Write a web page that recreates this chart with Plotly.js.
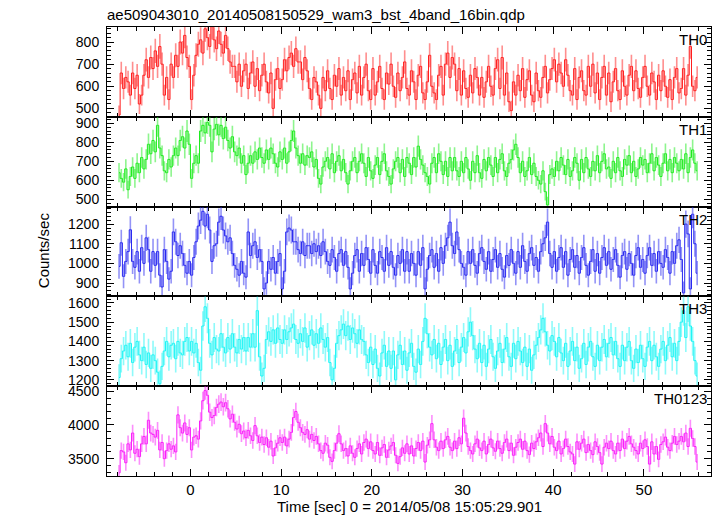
<!DOCTYPE html>
<html><head><meta charset="utf-8">
<script src="https://cdn.plot.ly/plotly-3.0.1.min.js"></script>
<style>body{margin:0;background:#fff;} #chart{width:717px;height:516px;}</style>
</head><body><div id="chart"></div>
<script>
// time bins: 0.25 s bins starting at t0 (sec, relative to 2014/05/08 15:05:29.901)
const binStart = -7.875;
const binWidth = 0.25;

const th0 = [
470,660,590,640, 620,560,660,590,
650,520,560,650, 720,640,730,680,
760,690,780,700, 560,640,540,700,
640,740,690,800, 750,830,730,690,
540,650,740,790, 810,750,860,820,
780,870,810,770, 850,790,750,830,
770,710,690,690, 620,700,600,670,
700,590,660,710, 600,680,580,650,
700,620,570,660, 500,630,680,590,
630,720,670,730, 750,690,770,710,
710,630,730,670, 590,540,640,620,
560,500,640,580, 670,590,540,650,
600,680,560,640, 580,670,540,630,
660,570,690,560, 640,700,580,540,
680,560,620,690, 590,540,660,610,
700,600,550,660, 580,640,710,590,
560,670,620,540, 650,690,570,540,
620,740,600,570, 540,650,690,560,
700,750,640,730, 700,580,680,560,
670,590,550,650, 570,680,640,560,
640,550,620,690, 600,560,680,720,
590,730,560,660, 530,490,620,560,
650,580,680,550, 630,670,560,530,
660,580,550,640, 690,570,630,680,
720,620,700,660, 600,720,650,580,
560,680,540,640, 670,580,560,690,
600,700,570,660, 540,640,690,560,
660,530,620,680, 580,540,670,600,
560,650,690,580, 670,590,550,640,
690,600,560,660, 620,540,650,580,
670,600,550,630, 540,640,680,570,
590,680,560,650, 780,600,580,640
];

const th1 = [
640,610,590,660, 550,620,670,610,
690,640,720,660, 710,790,740,810,
750,890,770,730, 650,640,710,670,
730,770,730,810, 830,770,860,790,
610,690,730,690, 860,890,850,905,
890,750,870,895, 840,890,820,880,
810,770,830,750, 730,770,690,730,
630,690,730,690, 750,710,770,720,
690,760,710,770, 740,690,670,750,
710,770,690,750, 810,860,770,730,
690,740,680,730, 720,750,670,710,
610,580,670,700, 720,660,740,640,
700,730,650,710, 640,580,650,700,
720,640,700,740, 690,620,720,650,
610,680,720,630, 700,740,650,620,
580,660,700,720, 640,710,620,720,
690,630,720,670, 780,710,680,640,
620,580,690,720, 640,740,700,630,
700,620,720,650, 720,650,620,700,
640,720,660,600, 700,640,730,640,
610,710,650,720, 680,620,720,640,
710,740,650,620, 690,710,760,790,
720,640,700,620, 650,720,630,690,
620,600,580,650, 540,470,630,660,
620,700,650,720, 680,630,710,620,
650,720,690,600, 710,640,720,660,
620,700,650,730, 640,700,740,660,
670,610,700,640, 720,650,620,710,
680,730,640,700, 620,660,720,680,
710,640,690,740, 650,720,680,620,
690,740,650,710, 640,720,690,650,
710,660,740,640, 720,760,690,650
];

const th2 = [
985,1105,934,1010, 1060,1171,1010,980,
1060,960,1080,1000, 1130,1070,960,1060,
990,1060,940,880, 1070,1010,920,960,
1160,1110,1040,1090, 1050,990,950,1010,
940,1030,1110,1190, 1220,1265,1190,1250,
1170,1010,1090,1100, 1210,1240,1170,1140,
1110,1130,1050,990, 970,940,1010,950,
930,1160,1040,1090, 1110,1030,1070,1010,
870,900,1010,970, 1030,950,1010,1050,
870,960,1160,1180, 1170,1110,1110,1070,
1050,1110,1040,1090, 1090,1050,1100,1060,
1090,1040,1110,1060, 1010,990,1070,1030,
960,1050,1070,990, 1060,980,870,950,
1040,1070,960,1050, 990,1080,1020,950,
1070,990,950,1060, 1030,960,1080,990,
1060,980,940,1040, 1000,1070,960,1060,
960,1050,1000,940, 1060,990,1080,870,
970,1040,1070,980, 1050,960,1080,1000,
1090,1130,1210,1090, 1050,1160,1070,1000,
980,940,1060,1000, 1070,990,950,1050,
1080,1010,970,1060, 960,1020,1070,980,
1050,970,930,1040, 990,1070,1000,950,
1060,980,1090,1010, 960,1050,1080,990,
1030,960,1060,1100, 1130,1210,1050,980,
1060,960,1030,1080, 980,1060,940,1020,
1070,980,1040,950, 1030,1080,990,940,
1010,1070,960,1050, 950,1030,1080,990,
1060,970,1020,1070, 990,930,1040,1060,
970,1050,1000,940, 1040,1080,980,1020,
950,1040,1080,990, 1050,960,1060,1000,
980,1070,1030,950, 1060,1000,1090,1120,
1020,850,1200,1150, 870,1250,1100,950
];

const th3 = [
1212,1310,1350,1380, 1320,1390,1290,1370,
1400,1330,1300,1370, 1280,1340,1260,1330,
1300,1240,1180,1270, 1350,1400,1320,1380,
1390,1310,1400,1340, 1330,1400,1420,1350,
1400,1340,1390,1290, 1250,1480,1580,1520,
1390,1330,1420,1360, 1350,1440,1370,1340,
1420,1360,1440,1370, 1340,1410,1360,1420,
1350,1420,1370,1440, 1370,1560,1320,1220,
1260,1410,1450,1400, 1460,1390,1470,1410,
1390,1460,1410,1450, 1470,1490,1410,1390,
1440,1400,1470,1370, 1430,1460,1380,1440,
1390,1470,1410,1370, 1420,1290,1200,1260,
1390,1430,1460,1490, 1430,1480,1410,1470,
1440,1390,1460,1410,
1400,1330,1290,1370, 1280,1360,1260,1220,
1340,1380,1270,1350, 1260,1350,1200,1330,
1380,1280,1350,1250, 1340,1390,1270,1240,
1360,1280,1400,1520, 1440,1370,1330,1410,
1310,1390,1280,1370, 1410,1300,1380,1270,
1350,1410,1290,1370, 1420,1340,1450,1500,
1430,1360,1310,1390, 1290,1380,1270,1360,
1410,1320,1260,1350, 1390,1290,1360,1420,
1320,1270,1390,1310, 1400,1350,1290,1370,
1270,1360,1250,1330, 1380,1420,1460,1520,
1450,1380,1350,1430, 1400,1320,1420,1340,
1300,1390,1270,1350, 1400,1300,1370,1260,
1310,1390,1280,1370, 1400,1320,1270,1380,
1300,1370,1410,1320, 1390,1420,1330,1400,
1310,1270,1380,1300, 1370,1400,1300,1260,
1360,1290,1380,1310, 1270,1370,1400,1300,
1380,1320,1270,1360, 1400,1300,1380,1420,
1320,1390,1300,1400, 1500,1560,1420,1580,
1480,1400,1300,1220
];

const th0123 = [
3290,3620,3600,3440, 3720,3630,3880,3580,
3640,3530,3720,3830, 3720,4070,3880,3860,
3820,3920,3630,3740, 3500,3620,3720,3640,
3690,3600,4150,3960, 3880,4030,3860,3960,
3630,3820,3840,3790, 4060,4360,4510,4440,
4190,4110,4140,4260, 4310,4340,4270,4330,
4240,4090,4160,4040, 3940,4010,3870,3910,
3810,3920,3840,3770, 3990,3840,3740,3820,
3710,3810,3670,3760, 3540,3660,3730,3810,
3740,3820,3690,3790, 3890,4110,4200,4040,
3960,3890,3860,3930, 3790,3860,3770,3830,
3720,3620,3580,3730, 3700,3520,3460,3620,
3730,3870,3720,3620, 3650,3540,3690,3580,
3520,3650,3720,3570, 3740,3790,3650,3750,
3620,3570,3740,3550, 3660,3710,3520,3630,
3690,3740,3550,3430, 3530,3660,3580,3720,
3570,3690,3540,3650, 3740,3620,3760,3450,
3700,3780,4020,3780, 3670,3620,3760,3650,
3780,3830,3670,3620, 3760,3650,3810,3720,
4100,3880,3680,3620, 3570,3720,3790,3660,
3620,3760,3570,3710, 3790,3660,3610,3760,
3650,3580,3740,3790, 3620,3730,3550,3670,
3740,3790,3640,3760, 3620,3560,3730,3650,
3750,3810,3880,3680, 4020,3880,3720,3830,
3670,3620,3760,3570, 3650,3790,3680,3600,
3570,3420,3750,3640, 3730,3790,3590,3710,
3620,3560,3750,3680, 3590,3420,3670,3730,
3650,3760,3620,3570, 3730,3620,3790,3650,
3760,3830,3720,3670, 3620,3570,3730,3650,
3780,3680,3420,3750, 3570,3680,3490,3710,
3750,3820,3670,3620, 3730,3830,3710,3760,
3830,3750,3880,3680, 3950,3800,3680,3450
];

const series = [th0, th1, th2, th3, th0123];
const panelNames = ['TH0', 'TH1', 'TH2', 'TH3', 'TH0123'];
const lineColors = ['rgb(255,30,30)', 'rgb(30,235,30)', 'rgb(40,40,240)', 'rgb(30,245,245)', 'rgb(250,30,250)'];
const errColors = ['rgba(255,30,30,0.5)', 'rgba(30,235,30,0.5)', 'rgba(40,40,240,0.5)', 'rgba(30,245,245,0.5)', 'rgba(250,30,250,0.5)'];
const yRanges = [[462, 868], [461, 935], [832, 1289], [1167, 1634], [3243, 4575]];
const yMajor = [100, 100, 100, 100, 500];
const yMinor = [20, 20, 20, 20, 100];
const xRange = [-9.2, 57.4];

const time = th0.map((_, i) => binStart + binWidth * i);

const font = 'Liberation Sans, Arial, Helvetica, sans-serif';
const traces = [];
const layout = {
  width: 717, height: 516,
  margin: {l: 107, r: 6, t: 27, b: 40},
  paper_bgcolor: '#fff', plot_bgcolor: '#fff',
  showlegend: false,
  font: {family: font, size: 15, color: '#000'},
  annotations: []
};

series.forEach((vals, k) => {
  const sx = k === 0 ? '' : String(k + 1);
  const err = vals.map(v => Math.sqrt(v / binWidth));
  traces.push({
    x: time, y: vals, type: 'scatter', mode: 'lines',
    line: {shape: 'hvh', color: lineColors[k], width: 1},
    error_y: {type: 'data', array: err, visible: true, color: errColors[k], thickness: 1.6, width: 0},
    xaxis: 'x' + sx, yaxis: 'y' + sx, hoverinfo: 'skip'
  });
  const top = 1 - 0.2 * k, bot = 1 - 0.2 * (k + 1);
  layout['xaxis' + sx] = {
    range: xRange, domain: [0, 1], anchor: 'y' + sx,
    tick0: 0, dtick: 10, ticks: 'inside', ticklen: 7, tickcolor: '#000', tickwidth: 1,
    minor: {dtick: 2, ticks: 'inside', ticklen: 4, tickcolor: '#000'},
    mirror: 'allticks', showline: true, linecolor: '#000', linewidth: 1,
    showgrid: false, zeroline: false, showticklabels: k === 4,
    tickfont: {family: font, size: 15, color: '#000'}
  };
  layout['yaxis' + sx] = {
    range: yRanges[k], domain: [bot, top], anchor: 'x' + sx,
    tick0: 0, dtick: yMajor[k], ticks: 'inside', ticklen: 7, tickcolor: '#000', tickwidth: 1,
    minor: {dtick: yMinor[k], ticks: 'inside', ticklen: 4, tickcolor: '#000'},
    mirror: 'allticks', showline: true, linecolor: '#000', linewidth: 1,
    showgrid: false, zeroline: false, ticklabelstandoff: 4,
    tickfont: {family: font, size: 14, color: '#000'}
  };
  layout.annotations.push({
    text: panelNames[k], xref: 'paper', yref: 'paper', x: 1, y: top,
    xanchor: 'right', yanchor: 'top', xshift: -2, yshift: -2, showarrow: false,
    font: {family: font, size: 15, color: '#000'}
  });
});

layout.annotations.push({
  text: 'ae509043010_20140508150529_wam3_bst_4band_16bin.qdp',
  xref: 'paper', yref: 'paper', x: 0, y: 1, xanchor: 'left', yanchor: 'bottom',
  xshift: -2, yshift: 2, showarrow: false, font: {family: font, size: 15, color: '#000'}
});
layout.annotations.push({
  text: 'Time [sec] 0 = 2014/05/08 15:05:29.901',
  xref: 'paper', yref: 'paper', x: 0.5, y: 0, xanchor: 'center', yanchor: 'top',
  yshift: -20, showarrow: false, font: {family: font, size: 15, color: '#000'}
});
layout.annotations.push({
  text: 'Counts/sec', textangle: -90,
  xref: 'paper', yref: 'paper', x: 0, y: 0.503, xanchor: 'center', yanchor: 'middle',
  xshift: -64, showarrow: false, font: {family: font, size: 15, color: '#000'}
});

Plotly.newPlot('chart', traces, layout, {displayModeBar: false, staticPlot: true});
</script>
</body></html>
